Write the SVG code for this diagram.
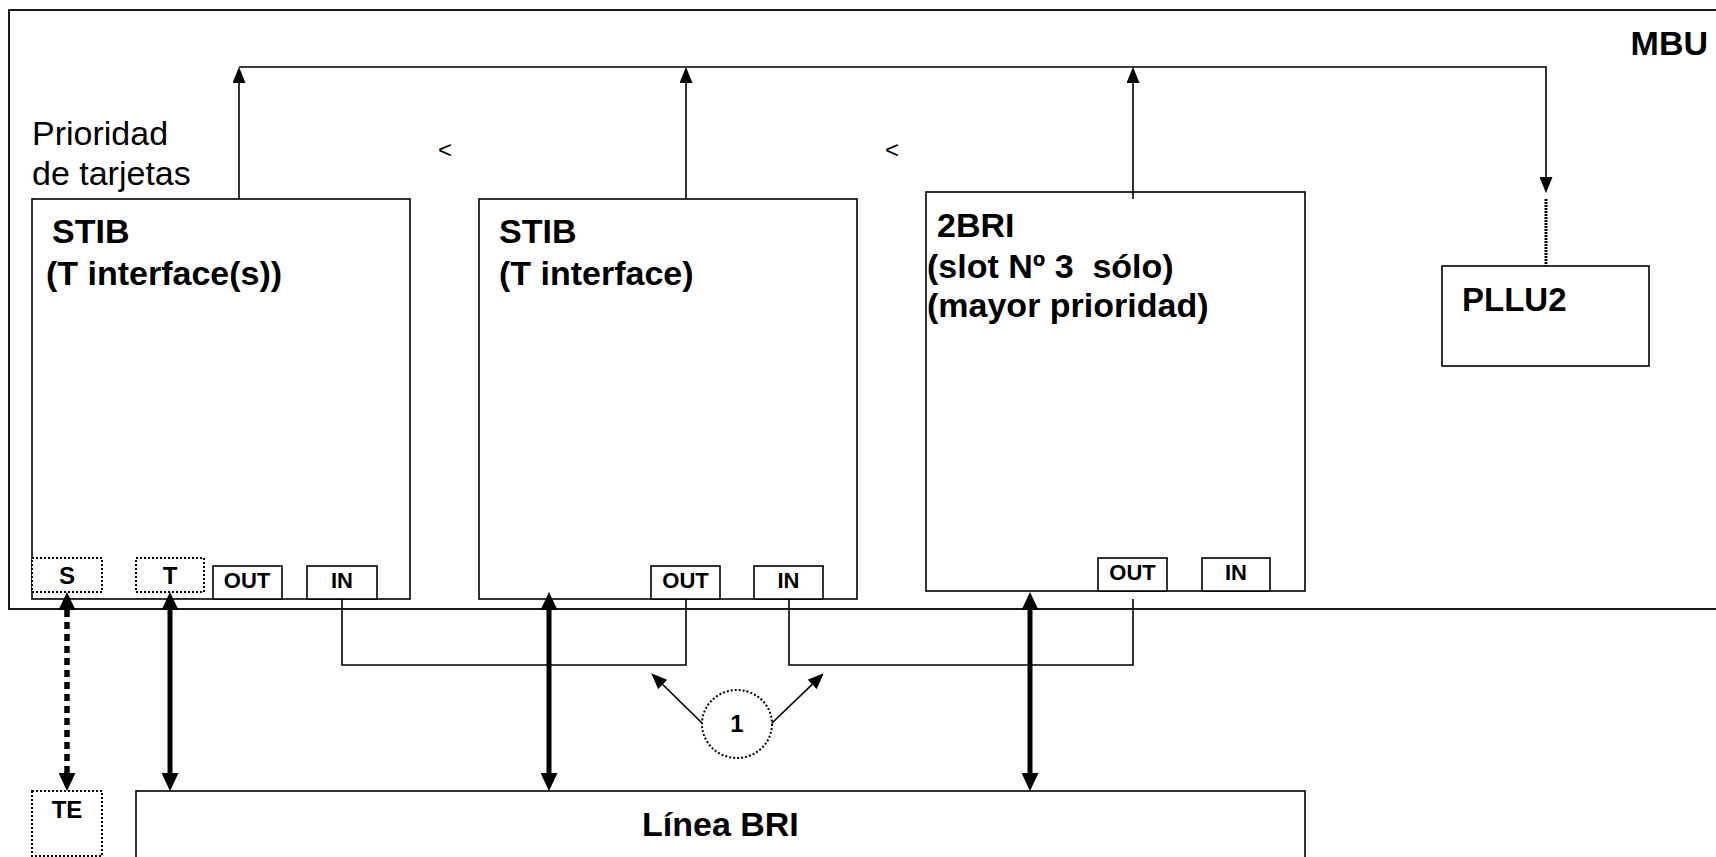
<svg xmlns="http://www.w3.org/2000/svg" width="1716" height="857" viewBox="0 0 1716 857">
<style>
.box{fill:#fff;stroke:#000;stroke-width:1.6}
.frame{fill:none;stroke:#000;stroke-width:1.8}
.dot{fill:#fff;stroke:#000;stroke-width:2;stroke-dasharray:2 2}
.ln{fill:none;stroke:#000;stroke-width:1.6}
.thick{fill:none;stroke:#000;stroke-width:5}
.dash{fill:none;stroke:#000;stroke-width:5.5;stroke-dasharray:7 5}
.b{font-family:"Liberation Sans",Arial,sans-serif;font-weight:bold;fill:#000}
.r{font-family:"Liberation Sans",Arial,sans-serif;fill:#000}
.big{font-size:34px}
.sm{font-size:22px;text-anchor:middle}
.md{font-size:24px;text-anchor:middle}
</style>
<defs>
<marker id="ah" markerUnits="userSpaceOnUse" markerWidth="16" markerHeight="13" refX="0" refY="6.5" orient="auto-start-reverse" viewBox="0 0 16 13"><path d="M0,0 L16,6.5 L0,13 z" fill="#000"/></marker>
<marker id="ahb" markerUnits="userSpaceOnUse" markerWidth="18" markerHeight="17" refX="0" refY="8.5" orient="auto-start-reverse" viewBox="0 0 18 17"><path d="M0,0 L18,8.5 L0,17 z" fill="#000"/></marker>
</defs>

<g id="MBU">
<rect class="frame" x="9" y="10" width="1730" height="599"/>
<text class="b" x="1708" y="55" font-size="34" text-anchor="end">MBU</text>
</g>

<g id="prioridad">
<text class="r big" x="32" y="145">Prioridad</text>
<text class="r big" x="32" y="185">de tarjetas</text>
<text class="r" x="438" y="158" font-size="24">&lt;</text>
<text class="r" x="885" y="158" font-size="24">&lt;</text>
</g>

<g id="STIB1">
<rect class="box" x="32" y="199" width="378" height="400"/>
<text class="b big" x="52" y="243">STIB</text>
<text class="b big" x="46" y="285">(T interface(s))</text>
</g>
<g id="STIB1-S"><rect class="dot" x="32" y="558" width="70" height="34"/><text class="b md" x="67" y="584">S</text></g>
<g id="STIB1-T"><rect class="dot" x="136" y="558" width="68" height="34"/><text class="b md" x="170" y="584">T</text></g>
<g id="STIB1-OUT"><rect class="box" x="213" y="566" width="69" height="33"/><text class="b sm" x="247" y="588">OUT</text></g>
<g id="STIB1-IN"><rect class="box" x="307" y="566" width="70" height="33"/><text class="b sm" x="342" y="588">IN</text></g>

<g id="STIB2">
<rect class="box" x="479" y="199" width="378" height="400"/>
<text class="b big" x="499" y="243">STIB</text>
<text class="b big" x="499" y="285">(T interface)</text>
</g>
<g id="STIB2-OUT"><rect class="box" x="651" y="566" width="69" height="33"/><text class="b sm" x="685.5" y="588">OUT</text></g>
<g id="STIB2-IN"><rect class="box" x="754" y="566" width="69" height="33"/><text class="b sm" x="788.5" y="588">IN</text></g>

<g id="BRI2">
<rect class="box" x="926" y="192" width="379" height="399"/>
<text class="b big" x="937" y="237">2BRI</text>
<text class="b big" x="927" y="278" xml:space="preserve">(slot Nº 3  sólo)</text>
<text class="b big" x="927" y="317">(mayor prioridad)</text>
</g>
<g id="BRI2-OUT"><rect class="box" x="1098" y="558" width="69" height="33"/><text class="b sm" x="1132.5" y="580">OUT</text></g>
<g id="BRI2-IN"><rect class="box" x="1202" y="558" width="68" height="33"/><text class="b sm" x="1236" y="580">IN</text></g>

<g id="PLLU2">
<rect class="box" x="1442" y="266" width="207" height="100"/>
<text class="b" x="1462" y="311" font-size="33">PLLU2</text>
</g>

<g id="TE">
<rect class="dot" x="32" y="791" width="70" height="65"/>
<text class="b md" x="67" y="818">TE</text>
</g>

<g id="LineaBRI">
<rect class="box" x="136" y="791" width="1169" height="80"/>
<text class="b big" x="642" y="836">Línea BRI</text>
</g>

<g id="note1">
<ellipse cx="737" cy="724" rx="35" ry="34" fill="#fff" stroke="#000" stroke-width="2" stroke-dasharray="2 2"/>
<text class="b md" x="737" y="732">1</text>
</g>

<g id="connectors">
<path class="ln" d="M239,67 H1546 V177" marker-end="url(#ah)"/>
<line class="ln" x1="239" y1="199" x2="239" y2="83" marker-end="url(#ah)"/>
<line class="ln" x1="686" y1="199" x2="686" y2="83" marker-end="url(#ah)"/>
<line class="ln" x1="1133" y1="199" x2="1133" y2="83" marker-end="url(#ah)"/>
<line x1="1546" y1="199" x2="1546" y2="266" stroke="#000" stroke-width="3" stroke-dasharray="2 1"/>
<path class="ln" d="M342,599 V665 H686 V599"/>
<path class="ln" d="M789,599 V665 H1133 V599"/>
<line class="dash" x1="67" y1="610" x2="67" y2="773" marker-start="url(#ahb)" marker-end="url(#ahb)"/>
<line class="thick" x1="170" y1="610" x2="170" y2="773" marker-start="url(#ahb)" marker-end="url(#ahb)"/>
<line class="thick" x1="549" y1="610" x2="549" y2="773" marker-start="url(#ahb)" marker-end="url(#ahb)"/>
<line class="thick" x1="1030" y1="610" x2="1030" y2="773" marker-start="url(#ahb)" marker-end="url(#ahb)"/>
<line class="ln" x1="702" y1="723" x2="662.7" y2="684.5" marker-end="url(#ah)"/>
<line class="ln" x1="772" y1="723" x2="812.2" y2="684.4" marker-end="url(#ah)"/>
</g>
</svg>
